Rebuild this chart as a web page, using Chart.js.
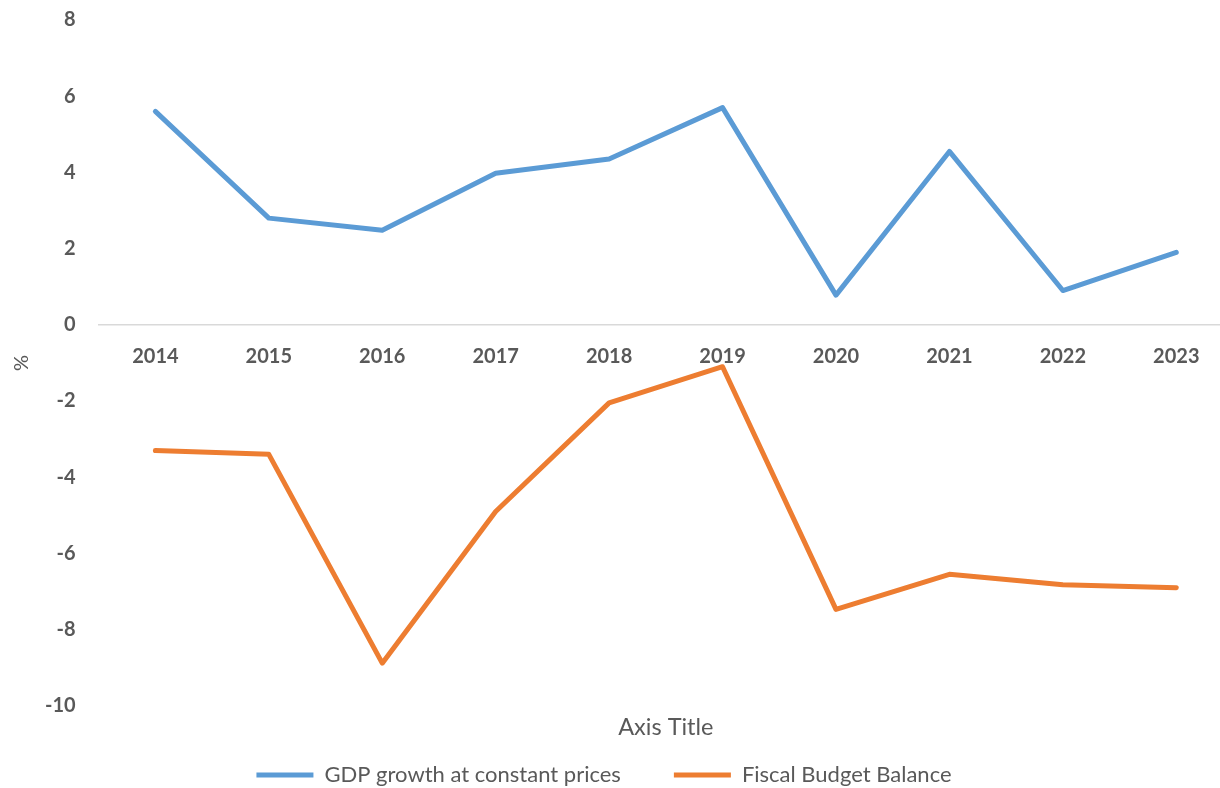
<!DOCTYPE html>
<html>
<head>
<meta charset="utf-8">
<script src="https://cdn.jsdelivr.net/npm/chart.js@4/dist/chart.umd.min.js"></script>
<style>
  html, body { margin: 0; padding: 0; background: #fff; }
  body { width: 1220px; height: 788px; overflow: hidden; }
  /* plot runs a little past the right edge and is cut off there */
  #wrap { width: 1233px; height: 788px; }
</style>
</head>
<body>
<div id="wrap"><canvas id="balance-chart"></canvas></div>
<script>
const years = ['2014', '2015', '2016', '2017', '2018', '2019', '2020', '2021', '2022', '2023'];
const gdpGrowth = [5.6, 2.8, 2.48, 3.98, 4.35, 5.7, 0.78, 4.55, 0.9, 1.9];
const fiscalBalance = [-3.3, -3.4, -8.88, -4.9, -2.05, -1.1, -7.47, -6.55, -6.82, -6.9];
const yTicks = [8, 6, 4, 2, 0, -2, -4, -6, -8, -10];

const grey = '#595959';
const fontFamily = 'Lato, "Open Sans", sans-serif';

// keep the legend centred on the visible page rather than the wider canvas
const legendShift = {
    id: 'legendShift',
    afterLayout(chart) {
        const lg = chart.legend;
        if (!lg) return;
        lg.left -= 10;
        lg.right -= 10;
    }
};

const ctx = document.getElementById('balance-chart').getContext('2d');

new Chart(ctx, {
    type: 'line',
    data: {
        labels: years,
        datasets: [{
            label: 'GDP growth at constant prices',
            data: gdpGrowth,
            borderColor: '#5B9BD5',
            backgroundColor: '#5B9BD5',
            borderWidth: 5,
            borderCapStyle: 'round',
            borderJoinStyle: 'round',
            pointRadius: 0,
            tension: 0
        }, {
            label: 'Fiscal Budget Balance',
            data: fiscalBalance,
            borderColor: '#ED7D31',
            backgroundColor: '#ED7D31',
            borderWidth: 5,
            borderCapStyle: 'round',
            borderJoinStyle: 'round',
            pointRadius: 0,
            tension: 0
        }]
    },
    plugins: [legendShift],
    options: {
        responsive: true,
        maintainAspectRatio: false,
        animation: false,
        layout: { padding: { top: 20, right: 0, bottom: -8, left: -5 } },
        plugins: {
            legend: {
                position: 'bottom',
                labels: {
                    usePointStyle: true,
                    pointStyle: 'line',
                    pointStyleWidth: 57,
                    boxHeight: 5,
                    padding: 53,
                    color: grey,
                    font: { family: fontFamily, size: 22 }
                }
            },
            tooltip: { enabled: false }
        },
        scales: {
            x: {
                offset: true,
                position: { y: 0 },
                grid: { display: false, drawTicks: false },
                border: { display: true, color: '#d9d9d9', width: 1.5 },
                ticks: {
                    padding: 20,
                    maxRotation: 0,
                    color: grey,
                    font: { family: fontFamily, size: 20, weight: 'bold' }
                }
            },
            // only carries the bottom axis title
            xTitle: {
                type: 'category',
                labels: years,
                position: 'bottom',
                grid: { display: false, drawTicks: false },
                border: { display: false },
                ticks: { display: false },
                title: {
                    display: true,
                    text: 'Axis Title',
                    color: grey,
                    padding: { top: 8, bottom: -31 },
                    font: { family: fontFamily, size: 23.5 }
                }
            },
            y: {
                min: -10,
                max: 8,
                afterBuildTicks: (scale) => {
                    scale.ticks = yTicks.map(v => ({ value: v }));
                },
                // tick marks stay hidden; tickLength only spaces the labels
                grid: { display: false, drawTicks: true, tickLength: 23 },
                border: { display: false },
                ticks: {
                    padding: 0,
                    color: grey,
                    font: { family: fontFamily, size: 20, weight: 'bold' }
                },
                title: {
                    display: true,
                    text: '%',
                    color: grey,
                    padding: { top: 15, bottom: 11 },
                    font: { family: fontFamily, size: 20 }
                }
            }
        }
    }
});
</script>
</body>
</html>
